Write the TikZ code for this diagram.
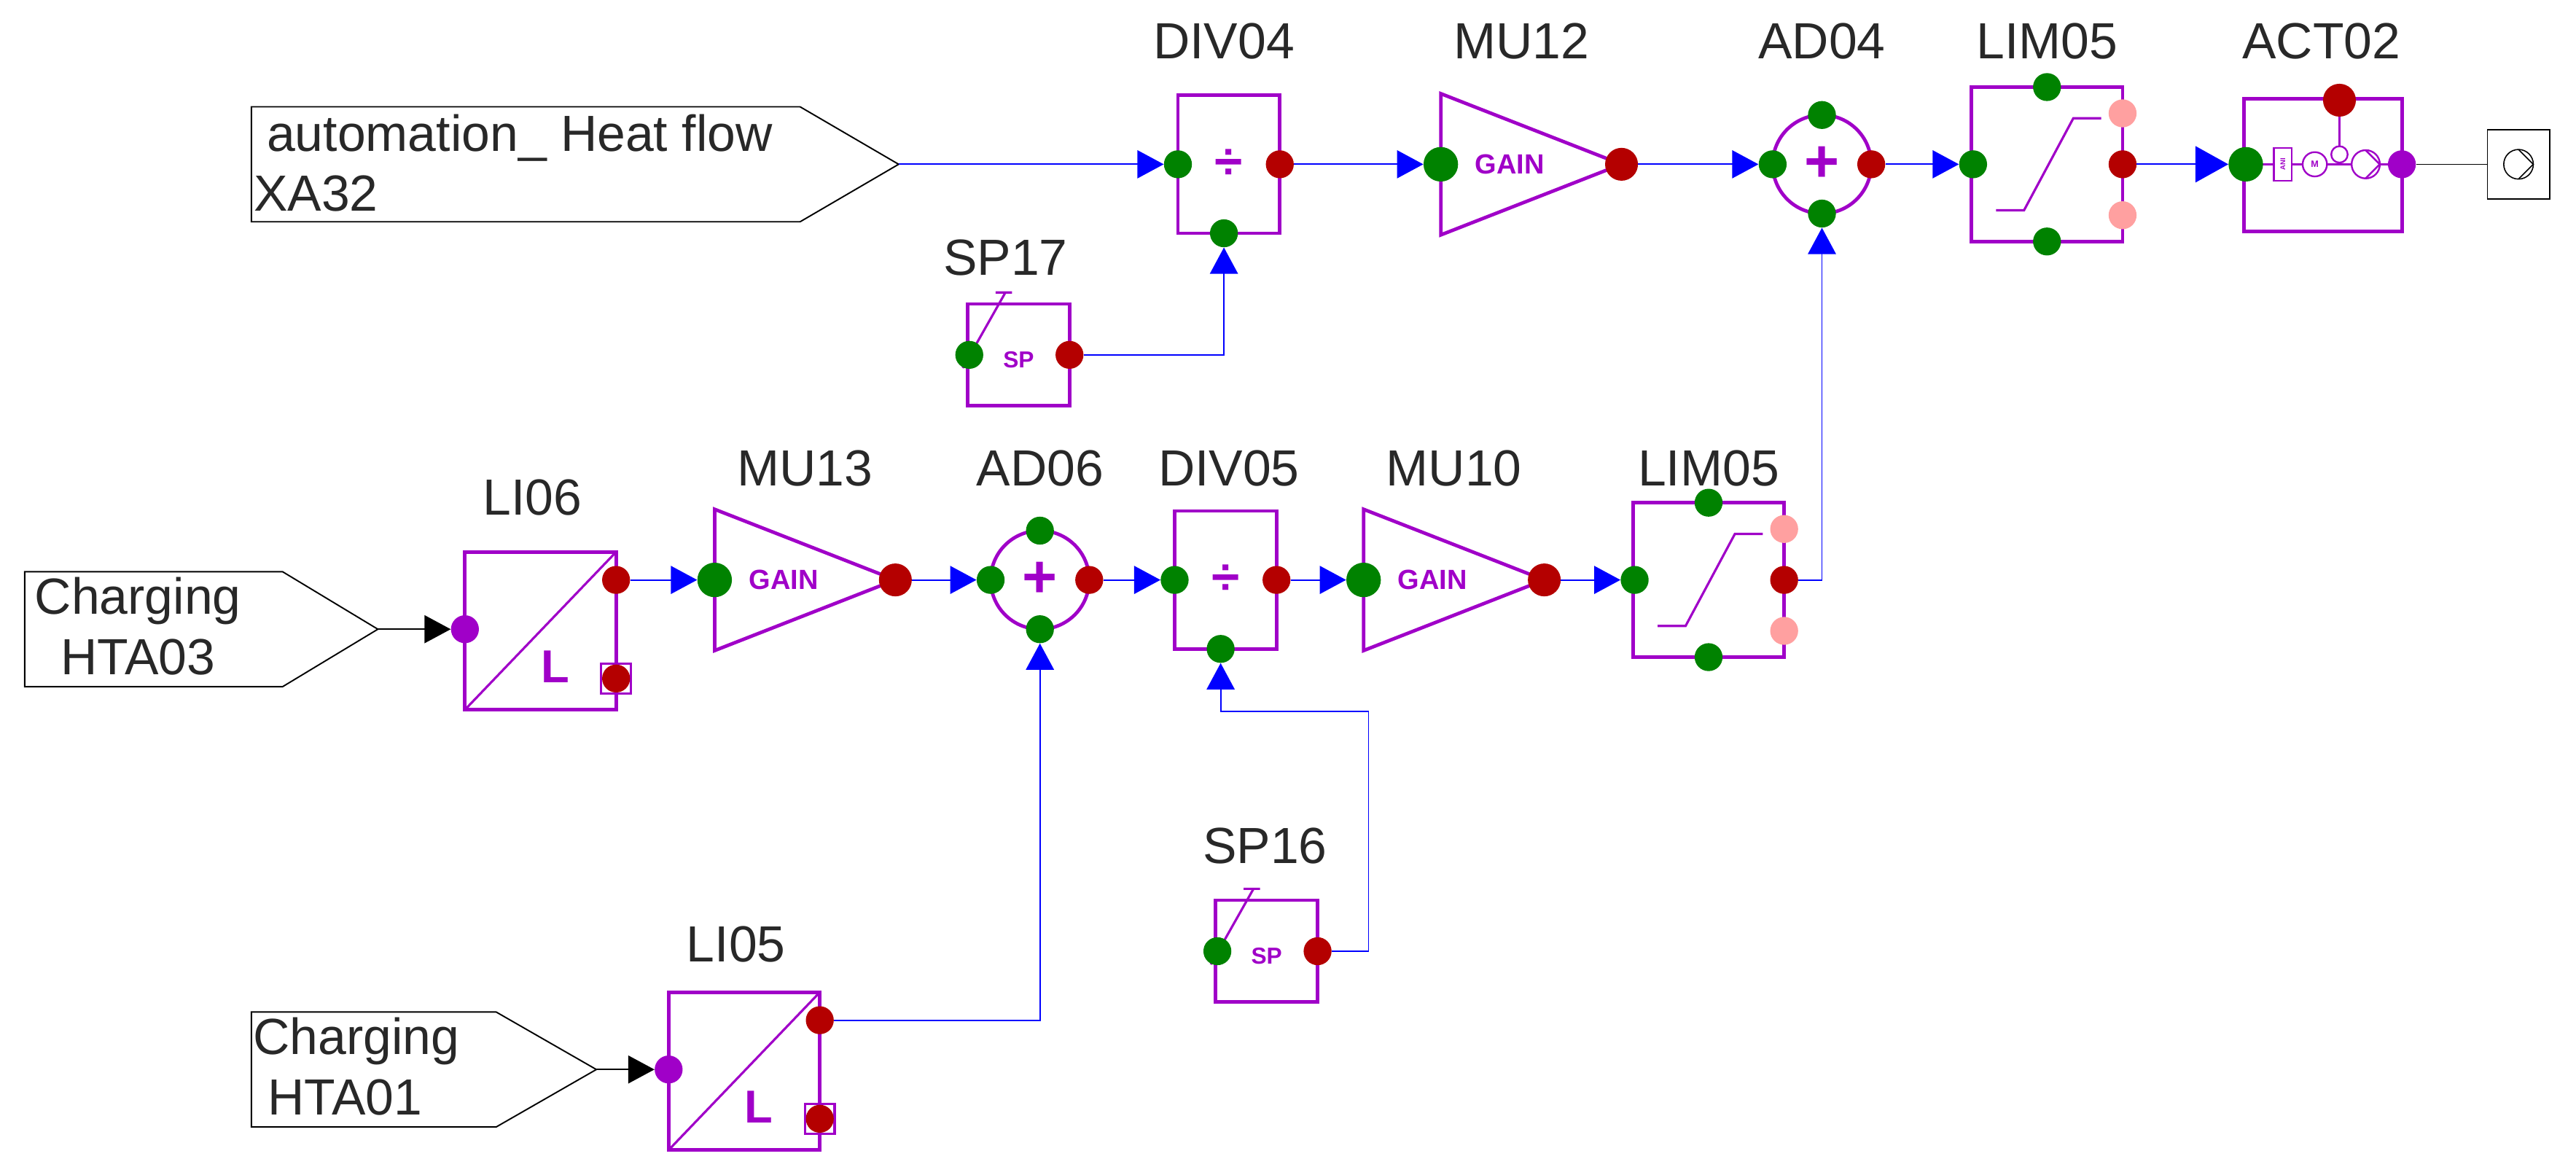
\documentclass[tikz,border=0pt]{standalone}
\usepackage{fontspec}
\setmainfont{Liberation Sans}
\usepackage{tikz}
\definecolor{purp}{RGB}{160,0,200}
\definecolor{grn}{RGB}{0,130,0}
\definecolor{dred}{RGB}{180,0,0}
\definecolor{pinkp}{RGB}{255,160,160}
\definecolor{sigblue}{RGB}{0,0,255}
\definecolor{txt}{RGB}{40,40,40}
\usetikzlibrary{arrows.meta,calc}

\tikzset{
  blk/.style={draw=purp, line width=3pt},
  port/.style={circle, inner sep=0pt, minimum size=0.85cm, fill=#1},
  lbl/.style={text=txt, font=\fontsize{44}{48}\selectfont},
  sig/.style={draw=sigblue, line width=1.2pt, -{Triangle[length=0.8cm,width=0.85cm]}},
  blk txt/.style={text=purp, font=\bfseries\fontsize{#1}{#1}\selectfont}
}

% gain block: name, left x, y
\newcommand{\gainblk}[3]{
  \draw[blk] (#2,#3-43) -- (#2+110,#3) -- (#2,#3+43) -- cycle;
  \node[blk txt=24] at (#2+42,#3) {GAIN};
  \node[port=grn, minimum size=1.05cm] (#1-in) at (#2,#3) {};
  \node[port=dred, minimum size=1.0cm] (#1-out) at (#2+110,#3) {};
}
% divider block: name, centre x, y
\newcommand{\divblk}[3]{
  \draw[blk] (#2-31,#3-42) rectangle (#2+31,#3+42);
  \node[blk txt=44] at (#2,#3) {÷};
  \node[port=grn] (#1-in) at (#2-31,#3) {};
  \node[port=dred] (#1-out) at (#2+31,#3) {};
  \node[port=grn] (#1-b) at (#2-3,#3+42) {};
}
% adder block: name, centre x, y
\newcommand{\addblk}[3]{
  \draw[blk] (#2,#3) circle (1.5cm);
  \node[blk txt=52] at (#2,#3) {+};
  \node[port=grn] (#1-in) at (#2-30,#3) {};
  \node[port=grn] (#1-t) at (#2,#3-30) {};
  \node[port=grn] (#1-b) at (#2,#3+30) {};
  \node[port=dred] (#1-out) at (#2+30,#3) {};
}
% limiter block: name, centre x, y
\newcommand{\limblk}[3]{
  \draw[blk] (#2-46,#3-47) rectangle (#2+46,#3+47);
  \draw[draw=purp, line width=2pt] (#2-31,#3+28) -- (#2-14,#3+28) -- (#2+16,#3-28) -- (#2+33,#3-28);
  \node[port=grn] (#1-in) at (#2-45,#3) {};
  \node[port=grn] at (#2,#3-47) {};
  \node[port=grn] at (#2,#3+47) {};
  \node[port=pinkp] at (#2+46,#3-31) {};
  \node[port=pinkp] at (#2+46,#3+31) {};
  \node[port=dred] (#1-out) at (#2+46,#3) {};
}
% setpoint block: name, centre x, y
\newcommand{\spblk}[3]{
  \draw[blk] (#2-31,#3-31) rectangle (#2+31,#3+31);
  \draw[draw=purp, line width=2pt] (#2-34,#3+8) -- (#2-8,#3-38) (#2-14,#3-38) -- (#2-4,#3-38);
  \node[blk txt=20] at (#2,#3+3) {SP};
  \node[port=grn] (#1-in) at (#2-30,#3) {};
  \node[port=dred] (#1-out) at (#2+31,#3) {};
}
% level input block: name, left x, top y
\newcommand{\liblk}[3]{
  \draw[blk] (#2,#3) rectangle (#2+92,#3+96);
  \draw[draw=purp, line width=2pt] (#2,#3+96) -- (#2+92,#3);
  \node[blk txt=40] at (#2+55,#3+70) {L};
  \draw[draw=purp, line width=2pt] (#2+83,#3+68) rectangle (#2+101,#3+86);
  \node[port=purp] (#1-in) at (#2,#3+47) {};
  \node[port=dred] (#1-out) at (#2+92,#3+17) {};
  \node[port=dred] at (#2+92,#3+77) {};
}
% input connector: name, left x, top y, right x of box, tip x
\newcommand{\inblk}[5]{
  \draw[line width=1.2pt] (#2,#3) -- (#4,#3) -- (#5,#3+35) -- (#4,#3+70) -- (#2,#3+70) -- cycle;
  \coordinate (#1) at (#5,#3+35);
}

\begin{document}
\begin{tikzpicture}[x=0.05cm, y=-0.05cm]
  \useasboundingbox (0,0) rectangle (1568,715);

  % inputs
  \inblk{xa32}{153}{65}{487}{547}
  \node[lbl, anchor=west] at (160,84) {automation\_ Heat flow};
  \node[lbl, anchor=west] at (152,118) {XA32};
  \inblk{hta03}{15}{348}{172}{230}
  \node[lbl] at (84,366) {Charging};
  \node[lbl] at (84,400) {HTA03};
  \inblk{hta01}{153}{616}{302}{363}
  \node[lbl] at (217,634) {Charging};
  \node[lbl] at (210,668) {HTA01};

  % upper chain
  \divblk{div04}{748}{100}
  \node[lbl] at (745,25) {DIV04};
  \gainblk{mu12}{877}{100}
  \node[lbl] at (926,25) {MU12};
  \addblk{ad04}{1109}{100}
  \node[lbl] at (1109,25) {AD04};
  \limblk{lim05a}{1246}{100}
  \node[lbl] at (1246,25) {LIM05};
  \spblk{sp17}{620}{216}
  \node[lbl] at (612,157) {SP17};

  % actuator
  \draw[blk] (1366,60) rectangle (1462,141);
  \draw[draw=purp, line width=1.5pt] (1367,100) -- (1462,100) (1424,62) -- (1424,89);
  \draw[draw=purp, line width=1.5pt, fill=white] (1384,90) rectangle (1395,110);
  \node[text=purp, rotate=90, font=\bfseries\fontsize{6}{6}\selectfont] at (1389.5,100) {ANI};
  \draw[draw=purp, line width=1.5pt, fill=white] (1409,100) circle (0.37cm);
  \node[text=purp, font=\bfseries\fontsize{8}{8}\selectfont] at (1409,100) {M};
  \draw[draw=purp, line width=1.5pt, fill=white] (1424,94) circle (0.25cm);
  \draw[draw=purp, line width=1.5pt, fill=white] (1440,100) circle (0.43cm);
  \draw[draw=purp, line width=1.5pt] (1440,91.5) -- (1448.5,100) -- (1440,108.5);
  \node[port=grn, minimum size=1.05cm] (act02-in) at (1367,100) {};
  \node[port=purp] (act02-out) at (1462,100) {};
  \node[port=dred, minimum size=1.0cm] at (1424,61) {};
  \node[lbl] at (1413,25) {ACT02};
  \draw[line width=1pt] (1514,79) rectangle (1552,121);
  \node[minimum size=0cm, inner sep=0pt] (pump) at (1514,100) {};
  \draw[line width=1pt] (1533,100) circle (0.45cm);
  \draw[line width=1pt] (1533,91) -- (1542,100) -- (1533,109);

  % middle chain
  \liblk{li06}{283}{336}
  \node[lbl] at (324,303) {LI06};
  \gainblk{mu13}{435}{353}
  \node[lbl] at (490,285) {MU13};
  \addblk{ad06}{633}{353}
  \node[lbl] at (633,285) {AD06};
  \divblk{div05}{746}{353}
  \node[lbl] at (748,285) {DIV05};
  \gainblk{mu10}{830}{353}
  \node[lbl] at (885,285) {MU10};
  \limblk{lim05b}{1040}{353}
  \node[lbl] at (1040,285) {LIM05};
  \spblk{sp16}{771}{579}
  \node[lbl] at (770,515) {SP16};
  \liblk{li05}{407}{604}
  \node[lbl] at (448,575) {LI05};

  % signals
  \draw[sig] (xa32) -- (div04-in);
  \draw[sig] (div04-out) -- (mu12-in);
  \draw[sig] (mu12-out) -- (ad04-in);
  \draw[sig] (ad04-out) -- (lim05a-in);
  \draw[sig, -{Triangle[length=1cm,width=1.1cm]}] (lim05a-out) -- (act02-in);
  \draw[line width=1pt] (act02-out) -- (pump);
  \draw[sig] (sp17-out) -| (div04-b);
  \draw[line width=1.2pt, -{Triangle[length=0.8cm,width=0.85cm]}] (hta03) -- (li06-in);
  \draw[line width=1.2pt, -{Triangle[length=0.8cm,width=0.85cm]}] (hta01) -- (li05-in);
  \draw[sig] (li06-out) -- (mu13-in);
  \draw[sig] (mu13-out) -- (ad06-in);
  \draw[sig] (ad06-out) -- (div05-in);
  \draw[sig] (div05-out) -- (mu10-in);
  \draw[sig] (mu10-out) -- (lim05b-in);
  \draw[sig] (lim05b-out) -| (ad04-b);
  \draw[sig] (li05-out) -| (ad06-b);
  \coordinate (sp16-up) at (833,433);
  \draw[sig] (sp16-out) -| (sp16-up) -| (div05-b);
\end{tikzpicture}
\end{document}
